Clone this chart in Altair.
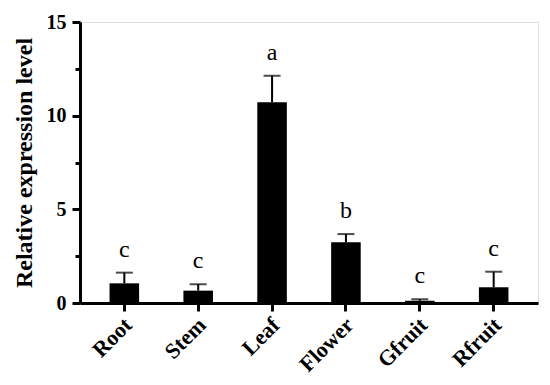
import altair as alt
import pandas as pd

tissues = ["Root", "Stem", "Leaf", "Flower", "Gfruit", "Rfruit"]
means = [1.05, 0.66, 10.72, 3.24, 0.12, 0.84]
errors = [0.57, 0.34, 1.41, 0.44, 0.08, 0.83]
letters = ["c", "c", "a", "b", "c", "c"]

df = pd.DataFrame({
    "tissue": tissues,
    "mean": means,
    "err": errors,
    "letter": letters,
})
df["top"] = df["mean"] + df["err"]

serif = "Liberation Serif"

x_enc = alt.X(
    "tissue:N",
    sort=tissues,
    scale=alt.Scale(paddingInner=0.6, paddingOuter=0.4),
    axis=alt.Axis(
        title=None,
        labelAngle=-45,
        labelAlign="right",
        labelBaseline="middle",
        labelFont=serif,
        labelFontWeight="bold",
        labelFontSize=22,
        labelColor="black",
        labelPadding=10,
        labelOffset=4,
        domainColor="black",
        domainWidth=3,
        tickColor="black",
        tickWidth=3,
        tickSize=8,
    ),
)

y_scale = alt.Scale(domain=[0, 15], nice=False)

bars = alt.Chart(df).mark_bar(color="black").encode(
    x=x_enc,
    y=alt.Y(
        "mean:Q",
        scale=y_scale,
        axis=alt.Axis(
            title="Relative expression level",
            titleFont=serif,
            titleFontWeight="bold",
            titleFontSize=24,
            titleColor="black",
            titlePadding=10,
            values=[0, 2.5, 5, 7.5, 10, 12.5, 15],
            labelExpr="datum.value % 5 === 0 ? datum.label : ''",
            labelFont=serif,
            labelFontWeight="bold",
            labelFontSize=20,
            labelColor="black",
            labelPadding=6,
            domainColor="black",
            domainWidth=3,
            tickColor="black",
            tickWidth=3,
            tickSize={"condition": {"test": "datum.value % 5 === 0", "value": 8}, "value": 5},
            grid=False,
        ),
    ),
)

stems = alt.Chart(df).mark_rule(color="black", strokeWidth=2).encode(
    x=alt.X("tissue:N", sort=tissues),
    y=alt.Y("mean:Q", scale=y_scale),
    y2="top:Q",
)

caps = alt.Chart(df).mark_tick(color="black", thickness=2, size=17, orient="horizontal").encode(
    x=alt.X("tissue:N", sort=tissues),
    y=alt.Y("top:Q", scale=y_scale),
)

labels = alt.Chart(df).mark_text(
    font=serif, fontSize=24, color="black", baseline="bottom", dy=-11
).encode(
    x=alt.X("tissue:N", sort=tissues),
    y=alt.Y("top:Q", scale=y_scale),
    text="letter:N",
)

chart = alt.layer(bars, stems, caps, labels).properties(
    width=458,
    height=281,
    padding={"left": 72, "top": 14, "right": 4, "bottom": 74},
    autosize="none",
).configure_view(stroke=None).configure(background="white")

chart.save("out.html", embed_options={"renderer": "svg", "actions": False})
